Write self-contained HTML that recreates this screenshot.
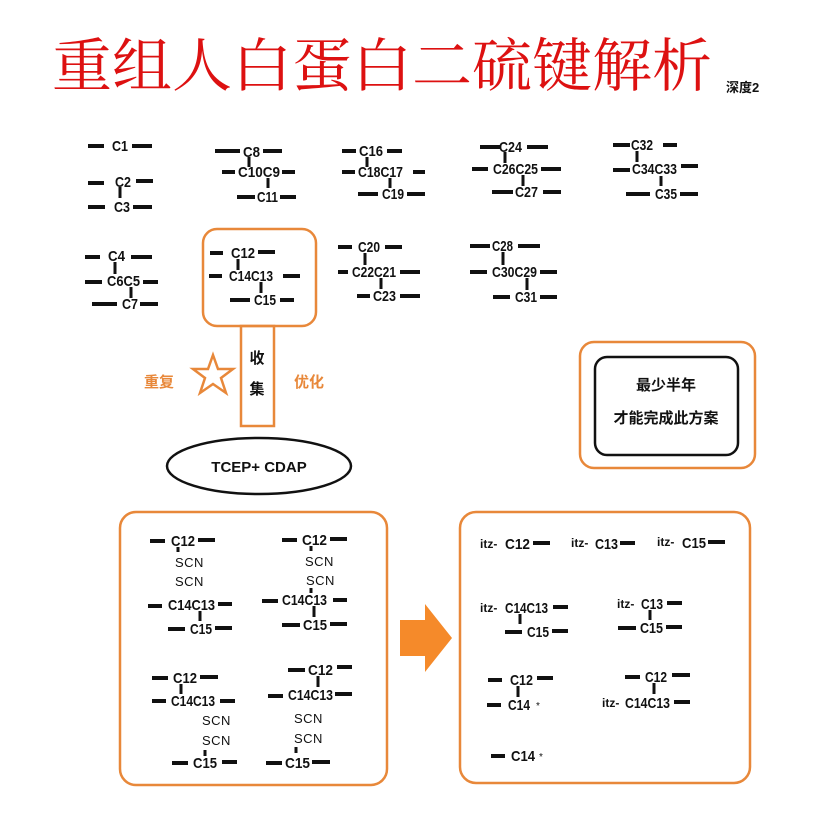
<!DOCTYPE html>
<html><head><meta charset="utf-8"><style>
html,body{margin:0;padding:0;background:#fff;}
svg{display:block;}
.t{font-family:"Liberation Sans",sans-serif;font-weight:bold;font-size:15px;fill:#111;}
.s{font-family:"Liberation Sans","Noto Sans CJK SC",sans-serif;font-size:13px;fill:#111;letter-spacing:0.5px;}
.i{font-family:"Liberation Sans",sans-serif;font-size:12px;font-weight:bold;fill:#111;}
</style></head><body>
<svg width="818" height="822" viewBox="0 0 818 822" xmlns="http://www.w3.org/2000/svg">
<g stroke="#111" stroke-width="4">
<!-- group 1 -->
<line x1="88" y1="146" x2="104" y2="146"/><line x1="132" y1="146" x2="152" y2="146"/>
<line x1="88" y1="183" x2="104" y2="183"/><line x1="136" y1="181" x2="153" y2="181"/>
<line x1="88" y1="207" x2="105" y2="207"/><line x1="133" y1="207" x2="152" y2="207"/>
<!-- C8 -->
<line x1="215" y1="151" x2="240" y2="151"/><line x1="263" y1="151" x2="282" y2="151"/>
<line x1="222" y1="172" x2="235" y2="172"/><line x1="282" y1="172" x2="295" y2="172"/>
<line x1="237" y1="197" x2="255" y2="197"/><line x1="280" y1="197" x2="296" y2="197"/>
<!-- C16 -->
<line x1="342" y1="151" x2="356" y2="151"/><line x1="387" y1="151" x2="402" y2="151"/>
<line x1="342" y1="172" x2="355" y2="172"/><line x1="413" y1="172" x2="425" y2="172"/>
<line x1="358" y1="194" x2="378" y2="194"/><line x1="407" y1="194" x2="425" y2="194"/>
<!-- C24 -->
<line x1="480" y1="147" x2="500" y2="147"/><line x1="527" y1="147" x2="548" y2="147"/>
<line x1="472" y1="169" x2="488" y2="169"/><line x1="541" y1="169" x2="561" y2="169"/>
<line x1="492" y1="192" x2="513" y2="192"/><line x1="543" y1="192" x2="561" y2="192"/>
<!-- C32 -->
<line x1="613" y1="145" x2="630" y2="145"/><line x1="663" y1="145" x2="677" y2="145"/>
<line x1="613" y1="170" x2="630" y2="170"/><line x1="681" y1="166" x2="698" y2="166"/>
<line x1="626" y1="194" x2="650" y2="194"/><line x1="680" y1="194" x2="698" y2="194"/>
<!-- C4 -->
<line x1="85" y1="257" x2="100" y2="257"/><line x1="131" y1="257" x2="152" y2="257"/>
<line x1="85" y1="282" x2="102" y2="282"/><line x1="143" y1="282" x2="158" y2="282"/>
<line x1="92" y1="304" x2="117" y2="304"/><line x1="140" y1="304" x2="158" y2="304"/>
<!-- C12 box -->
<line x1="210" y1="253" x2="223" y2="253"/><line x1="258" y1="252" x2="275" y2="252"/>
<line x1="209" y1="276" x2="222" y2="276"/><line x1="283" y1="276" x2="300" y2="276"/>
<line x1="230" y1="300" x2="250" y2="300"/><line x1="280" y1="300" x2="294" y2="300"/>
<!-- C20 -->
<line x1="338" y1="247" x2="352" y2="247"/><line x1="385" y1="247" x2="402" y2="247"/>
<line x1="338" y1="272" x2="348" y2="272"/><line x1="400" y1="272" x2="420" y2="272"/>
<line x1="357" y1="296" x2="370" y2="296"/><line x1="400" y1="296" x2="420" y2="296"/>
<!-- C28 -->
<line x1="470" y1="246" x2="490" y2="246"/><line x1="518" y1="246" x2="540" y2="246"/>
<line x1="470" y1="272" x2="487" y2="272"/><line x1="540" y1="272" x2="557" y2="272"/>
<line x1="493" y1="297" x2="510" y2="297"/><line x1="540" y1="297" x2="557" y2="297"/>
<!-- Q1 -->
<line x1="150" y1="541" x2="165" y2="541"/><line x1="198" y1="540" x2="215" y2="540"/>
<line x1="148" y1="606" x2="162" y2="606"/><line x1="218" y1="604" x2="232" y2="604"/>
<line x1="168" y1="629" x2="185" y2="629"/><line x1="215" y1="628" x2="232" y2="628"/>
<!-- Q2 -->
<line x1="282" y1="540" x2="297" y2="540"/><line x1="330" y1="539" x2="347" y2="539"/>
<line x1="262" y1="601" x2="278" y2="601"/><line x1="333" y1="600" x2="347" y2="600"/>
<line x1="282" y1="625" x2="300" y2="625"/><line x1="330" y1="624" x2="347" y2="624"/>
<!-- Q3 -->
<line x1="152" y1="678" x2="168" y2="678"/><line x1="200" y1="677" x2="218" y2="677"/>
<line x1="152" y1="701" x2="166" y2="701"/><line x1="220" y1="701" x2="235" y2="701"/>
<line x1="172" y1="763" x2="188" y2="763"/><line x1="222" y1="762" x2="237" y2="762"/>
<!-- Q4 -->
<line x1="288" y1="670" x2="305" y2="670"/><line x1="337" y1="667" x2="352" y2="667"/>
<line x1="268" y1="696" x2="283" y2="696"/><line x1="335" y1="694" x2="352" y2="694"/>
<line x1="266" y1="763" x2="282" y2="763"/><line x1="312" y1="762" x2="330" y2="762"/>
<!-- right -->
<line x1="533" y1="543" x2="550" y2="543"/><line x1="620" y1="543" x2="635" y2="543"/><line x1="708" y1="542" x2="725" y2="542"/>
<line x1="553" y1="607" x2="568" y2="607"/><line x1="505" y1="632" x2="522" y2="632"/><line x1="552" y1="631" x2="568" y2="631"/>
<line x1="667" y1="603" x2="682" y2="603"/><line x1="618" y1="628" x2="636" y2="628"/><line x1="666" y1="627" x2="682" y2="627"/>
<line x1="488" y1="680" x2="502" y2="680"/><line x1="537" y1="678" x2="553" y2="678"/>
<line x1="487" y1="705" x2="501" y2="705"/>
<line x1="625" y1="677" x2="640" y2="677"/><line x1="672" y1="675" x2="690" y2="675"/>
<line x1="674" y1="702" x2="690" y2="702"/>
<line x1="491" y1="756" x2="505" y2="756"/>
</g>
<g stroke="#111" stroke-width="3">
<line x1="120" y1="187" x2="120" y2="198"/>
<line x1="249" y1="157" x2="249" y2="167"/><line x1="268" y1="178" x2="268" y2="188"/>
<line x1="367" y1="157" x2="367" y2="167"/><line x1="390" y1="178" x2="390" y2="188"/>
<line x1="505" y1="152" x2="505" y2="163"/><line x1="523" y1="175" x2="523" y2="186"/>
<line x1="637" y1="151" x2="637" y2="162"/><line x1="661" y1="176" x2="661" y2="186"/>
<line x1="115" y1="262" x2="115" y2="274"/><line x1="131" y1="287" x2="131" y2="298"/>
<line x1="238" y1="259" x2="238" y2="270"/><line x1="261" y1="282" x2="261" y2="293"/>
<line x1="365" y1="253" x2="365" y2="265"/><line x1="381" y1="278" x2="381" y2="289"/>
<line x1="503" y1="252" x2="503" y2="265"/><line x1="527" y1="278" x2="527" y2="290"/>
<line x1="178" y1="547" x2="178" y2="552"/><line x1="200" y1="611" x2="200" y2="621"/>
<line x1="311" y1="546" x2="311" y2="551"/><line x1="311" y1="588" x2="311" y2="593"/><line x1="314" y1="606" x2="314" y2="617"/>
<line x1="181" y1="684" x2="181" y2="694"/><line x1="205" y1="750" x2="205" y2="756"/>
<line x1="318" y1="676" x2="318" y2="687"/><line x1="296" y1="747" x2="296" y2="753"/>
<line x1="520" y1="614" x2="520" y2="624"/><line x1="650" y1="610" x2="650" y2="620"/>
<line x1="518" y1="686" x2="518" y2="697"/><line x1="654" y1="683" x2="654" y2="694"/>
</g>
<g class="t">
<text x="112" y="151" textLength="16" lengthAdjust="spacingAndGlyphs">C1</text>
<text x="115" y="187" textLength="16" lengthAdjust="spacingAndGlyphs">C2</text>
<text x="114" y="212" textLength="16" lengthAdjust="spacingAndGlyphs">C3</text>
<text x="243" y="157" textLength="17" lengthAdjust="spacingAndGlyphs">C8</text>
<text x="238" y="177" textLength="42" lengthAdjust="spacingAndGlyphs">C10C9</text>
<text x="257" y="202" textLength="21" lengthAdjust="spacingAndGlyphs">C11</text>
<text x="359" y="156" textLength="24" lengthAdjust="spacingAndGlyphs">C16</text>
<text x="358" y="177" textLength="45" lengthAdjust="spacingAndGlyphs">C18C17</text>
<text x="382" y="199" textLength="22" lengthAdjust="spacingAndGlyphs">C19</text>
<text x="499" y="152" textLength="23" lengthAdjust="spacingAndGlyphs">C24</text>
<text x="493" y="174" textLength="45" lengthAdjust="spacingAndGlyphs">C26C25</text>
<text x="515" y="197" textLength="23" lengthAdjust="spacingAndGlyphs">C27</text>
<text x="631" y="150" textLength="22" lengthAdjust="spacingAndGlyphs">C32</text>
<text x="632" y="174" textLength="45" lengthAdjust="spacingAndGlyphs">C34C33</text>
<text x="655" y="199" textLength="22" lengthAdjust="spacingAndGlyphs">C35</text>
<text x="108" y="261" textLength="17" lengthAdjust="spacingAndGlyphs">C4</text>
<text x="107" y="286" textLength="33" lengthAdjust="spacingAndGlyphs">C6C5</text>
<text x="122" y="309" textLength="16" lengthAdjust="spacingAndGlyphs">C7</text>
<text x="231" y="258" textLength="24" lengthAdjust="spacingAndGlyphs">C12</text>
<text x="229" y="281" textLength="44" lengthAdjust="spacingAndGlyphs">C14C13</text>
<text x="254" y="305" textLength="22" lengthAdjust="spacingAndGlyphs">C15</text>
<text x="358" y="252" textLength="22" lengthAdjust="spacingAndGlyphs">C20</text>
<text x="352" y="277" textLength="44" lengthAdjust="spacingAndGlyphs">C22C21</text>
<text x="373" y="301" textLength="23" lengthAdjust="spacingAndGlyphs">C23</text>
<text x="492" y="251" textLength="21" lengthAdjust="spacingAndGlyphs">C28</text>
<text x="492" y="277" textLength="45" lengthAdjust="spacingAndGlyphs">C30C29</text>
<text x="515" y="302" textLength="22" lengthAdjust="spacingAndGlyphs">C31</text>
<!-- Q -->
<text x="171" y="546" textLength="24" lengthAdjust="spacingAndGlyphs">C12</text>
<text x="168" y="610" textLength="47" lengthAdjust="spacingAndGlyphs">C14C13</text>
<text x="190" y="634" textLength="22" lengthAdjust="spacingAndGlyphs">C15</text>
<text x="302" y="545" textLength="25" lengthAdjust="spacingAndGlyphs">C12</text>
<text x="282" y="605" textLength="45" lengthAdjust="spacingAndGlyphs">C14C13</text>
<text x="303" y="630" textLength="24" lengthAdjust="spacingAndGlyphs">C15</text>
<text x="173" y="683" textLength="24" lengthAdjust="spacingAndGlyphs">C12</text>
<text x="171" y="706" textLength="44" lengthAdjust="spacingAndGlyphs">C14C13</text>
<text x="193" y="768" textLength="24" lengthAdjust="spacingAndGlyphs">C15</text>
<text x="308" y="675" textLength="25" lengthAdjust="spacingAndGlyphs">C12</text>
<text x="288" y="700" textLength="45" lengthAdjust="spacingAndGlyphs">C14C13</text>
<text x="285" y="768" textLength="25" lengthAdjust="spacingAndGlyphs">C15</text>
<!-- right -->
<text x="505" y="549" textLength="25" lengthAdjust="spacingAndGlyphs">C12</text>
<text x="595" y="549" textLength="23" lengthAdjust="spacingAndGlyphs">C13</text>
<text x="682" y="548" textLength="24" lengthAdjust="spacingAndGlyphs">C15</text>
<text x="505" y="613" textLength="43" lengthAdjust="spacingAndGlyphs">C14C13</text>
<text x="527" y="637" textLength="22" lengthAdjust="spacingAndGlyphs">C15</text>
<text x="641" y="609" textLength="22" lengthAdjust="spacingAndGlyphs">C13</text>
<text x="640" y="633" textLength="23" lengthAdjust="spacingAndGlyphs">C15</text>
<text x="510" y="685" textLength="23" lengthAdjust="spacingAndGlyphs">C12</text>
<text x="508" y="710" textLength="22" lengthAdjust="spacingAndGlyphs">C14</text>
<text x="645" y="682" textLength="22" lengthAdjust="spacingAndGlyphs">C12</text>
<text x="625" y="708" textLength="45" lengthAdjust="spacingAndGlyphs">C14C13</text>
<text x="511" y="761" textLength="24" lengthAdjust="spacingAndGlyphs">C14</text>
</g>
<g class="s">
<text x="175" y="567">SCN</text><text x="175" y="586">SCN</text>
<text x="305" y="566">SCN</text><text x="306" y="585">SCN</text>
<text x="202" y="725">SCN</text><text x="202" y="745">SCN</text>
<text x="294" y="723">SCN</text><text x="294" y="743">SCN</text>
<text x="536" y="709" font-size="10">*</text><text x="539" y="760" font-size="10">*</text>
</g>
<g class="i">
<text x="480" y="548">itz-</text><text x="571" y="547">itz-</text><text x="657" y="546">itz-</text>
<text x="480" y="612">itz-</text><text x="617" y="608">itz-</text><text x="602" y="707">itz-</text>
</g>
<!-- title -->
<text x="52" y="86" font-family="'Noto Serif CJK SC',serif" font-size="58" fill="#dd1111" textLength="660" lengthAdjust="spacingAndGlyphs">重组人白蛋白二硫键解析</text>
<text x="726" y="92" font-family="'Liberation Sans','Noto Sans CJK SC',sans-serif" font-weight="bold" font-size="13" fill="#111">深度2</text>
<!-- boxes -->
<g fill="none" stroke="#e8883a" stroke-width="2.5">
<rect x="203" y="229" width="113" height="97" rx="14"/>
<rect x="241" y="326" width="33" height="100"/>
<rect x="580" y="342" width="175" height="126" rx="14"/>
<rect x="120" y="512" width="267" height="273" rx="16"/>
<rect x="460" y="512" width="290" height="271" rx="16"/>
<polygon points="213,355 218,369 233,369 221,378 226,393 213,384 200,393 205,378 193,369 208,369"/>
</g>
<rect x="595" y="357" width="143" height="98" rx="12" fill="none" stroke="#111" stroke-width="2.5"/>
<g font-family="'Liberation Sans','Noto Sans CJK SC',sans-serif" font-weight="bold" fill="#111">
<text x="257" y="363" font-size="15" text-anchor="middle">收</text>
<text x="257" y="394" font-size="15" text-anchor="middle">集</text>
<text x="666" y="390" font-size="15" text-anchor="middle">最少半年</text>
<text x="666" y="423" font-size="15" text-anchor="middle">才能完成此方案</text>
<text x="259" y="472" font-size="15" text-anchor="middle">TCEP+ CDAP</text>
</g>
<g font-family="'Liberation Sans','Noto Sans CJK SC',sans-serif" font-weight="bold" fill="#e8883a" font-size="15">
<text x="144" y="387">重复</text><text x="294" y="387">优化</text>
</g>
<ellipse cx="259" cy="466" rx="92" ry="28" fill="none" stroke="#111" stroke-width="2.5"/>
<polygon points="400,620 425,620 425,604 452,638 425,672 425,656 400,656" fill="#f58a2a"/>
</svg>
</body></html>
